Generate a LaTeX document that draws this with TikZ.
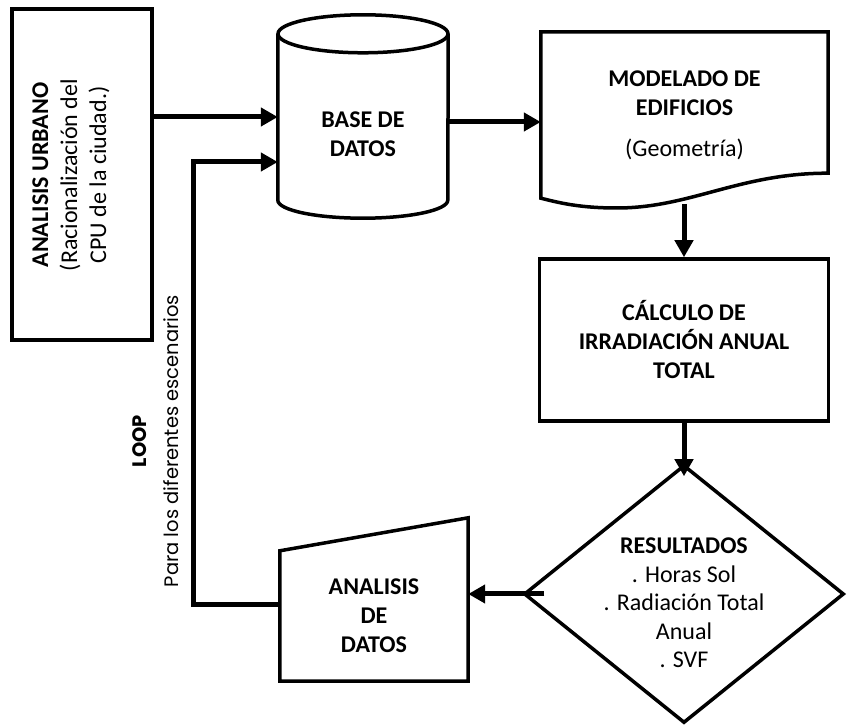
\documentclass[tikz,border=0pt]{standalone}
\usepackage{fontspec}
\setmainfont{Carlito}
\newfontfamily\loopfont{Poppins}
\usetikzlibrary{shapes.geometric,arrows.meta}

\begin{document}
\begin{tikzpicture}[x=1pt,y=1pt]
\useasboundingbox (0,0) rectangle (847,726);

\tikzstyle{BoxStyle}=[draw,line width=3.5pt,inner sep=0pt,font=\fontsize{24}{29}\selectfont,align=center]
\tikzstyle{TextStyle}=[inner sep=0pt,font=\fontsize{24}{29}\selectfont,align=center]
\tikzstyle{ShapeStyle}=[line width=3.5pt,line join=miter]
\tikzstyle{EdgeStyle}=[line width=5pt,-{Triangle[length=17pt,width=18pt]}]

\node[BoxStyle,minimum width=140pt,minimum height=331pt] (urb) at (82,551.5) {};
\node[TextStyle,rotate=90] (urbtxt) at (71,551) {\textbf{ANALISIS URBANO}\\(Racionalización del\\CPU de la ciudad.)};

\node[TextStyle,minimum width=170pt,minimum height=166pt] (cyl) at (363,609) {};
\draw[ShapeStyle] (cyl.north west) -- (cyl.south west) arc[start angle=180,end angle=360,x radius=85pt,y radius=18pt] -- (cyl.north east);
\draw[ShapeStyle] (cyl.north) ellipse[x radius=85pt,y radius=19pt];
\node[TextStyle] (cyltxt) at (363,592) {\textbf{BASE DE}\\\textbf{DATOS}};

\node[TextStyle,minimum width=287pt,minimum height=166pt] (doc) at (684.5,611) {\textbf{MODELADO DE}\\\textbf{EDIFICIOS}\\[12pt](Geometría)};
\draw[ShapeStyle] (doc.south west) -- (doc.north west) -- (doc.north east) -- ([yshift=25pt]doc.south east) .. controls (740,553) and (690,518) .. (617,518) .. controls (580,518) and (560,523) .. (doc.south west) -- cycle;

\node[BoxStyle,minimum width=289pt,minimum height=162pt] (calc) at (684,386) {\textbf{CÁLCULO DE}\\\textbf{IRRADIACIÓN ANUAL}\\\textbf{TOTAL}};

\node[BoxStyle,diamond,minimum width=320pt,minimum height=258pt] (dia) at (684,132) {};
\node[TextStyle,font=\fontsize{24}{28.5}\selectfont] (diatxt) at (684,123) {\textbf{RESULTADOS}\\. Horas Sol\\. Radiación Total\\Anual\\. SVF};

\node[TextStyle,minimum width=188pt,minimum height=130pt] (ana) at (374,110) {\textbf{ANALISIS}\\\textbf{DE}\\\textbf{DATOS}};
\draw[ShapeStyle] (ana.south west) -- (ana.north west) -- ([yshift=33pt]ana.north east) -- (ana.south east) -- cycle;

\node[inner sep=0pt,rotate=90,align=center,font=\loopfont\fontsize{19.5}{32}\selectfont] (looptxt) at (156,285) {\textbf{LOOP}\\Para los diferentes escenarios};

\coordinate (lp) at (193,121);
\coordinate (docb) at (684,522);

\draw[EdgeStyle] (urb.east |- cyl.west) -- (cyl.west);
\draw[EdgeStyle] ([yshift=-5pt]cyl.east) -- ([yshift=-5pt]cyl.east -| doc.west);
\draw[EdgeStyle] (docb) -- (calc.north);
\draw[EdgeStyle] (calc.south) -- ([yshift=-13pt]dia.north);
\draw[EdgeStyle] ([xshift=22pt]dia.west) -- (ana.east |- dia.west);
\draw[EdgeStyle] ([yshift=11pt]ana.west) -- (lp) |- ([yshift=-45pt]cyl.west);

\end{tikzpicture}
\end{document}
